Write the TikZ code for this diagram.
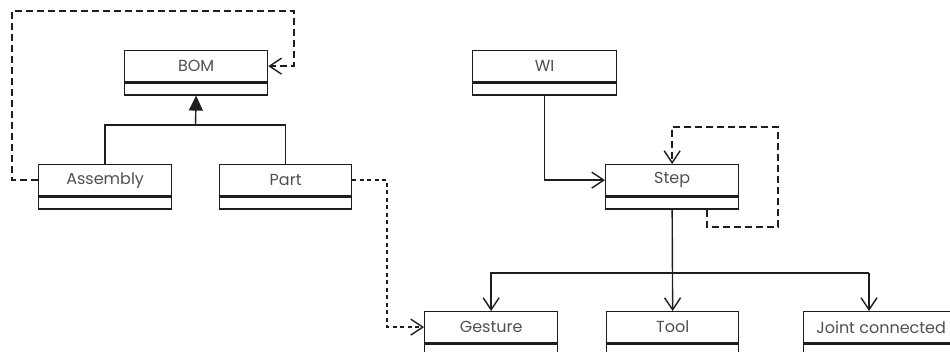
\documentclass[tikz,border=0pt]{standalone}
\usepackage{fontspec}
\setmainfont{Poppins}
\usetikzlibrary{arrows.meta}
\definecolor{txtgray}{HTML}{505050}
\definecolor{linec}{HTML}{1E1E1E}
\tikzset{
  cls/.style={draw=linec, line width=1.3pt, minimum height=31pt, inner sep=0pt,
    anchor=north west, font=\fontsize{16}{18}\selectfont, text=txtgray},
  clsb/.style={draw=linec, line width=1.3pt, minimum height=12pt, inner sep=0pt,
    anchor=north},
  conn/.style={draw=linec, line width=1.4pt},
  dashA/.style={conn, dash pattern=on 7pt off 4pt},
  dashB/.style={conn, dash pattern=on 4pt off 3.5pt},
  openhead/.style={-{Straight Barb[length=12pt,width=16pt,line width=1.4pt]}},
  inherit/.style={-{Triangle[length=15pt,width=14pt]}}
}
\begin{document}
\begin{tikzpicture}[x=1pt,y=-1pt]
\useasboundingbox (0,0) rectangle (950,352);
% class boxes
\node[cls, minimum width=143pt] (bom) at (124,50) {BOM};
\node[clsb, minimum width=143pt] (bomb) at (bom.south) {};
\node[cls, minimum width=144pt] (wi) at (472,50) {WI};
\node[clsb, minimum width=144pt] (wib) at (wi.south) {};
\node[cls, minimum width=133pt] (asm) at (38,164) {Assembly};
\node[clsb, minimum width=133pt] (asmb) at (asm.south) {};
\node[cls, minimum width=132pt] (part) at (219,164) {Part};
\node[clsb, minimum width=132pt] (partb) at (part.south) {};
\node[cls, minimum width=133pt] (step) at (605,164) {Step};
\node[clsb, minimum width=133pt] (stepb) at (step.south) {};
\node[cls, minimum width=133pt] (ges) at (424,311) {Gesture};
\node[clsb, minimum width=133pt] (gesb) at (ges.south) {};
\node[cls, minimum width=132pt] (tool) at (606,311) {Tool};
\node[clsb, minimum width=132pt] (toolb) at (tool.south) {};
\node[cls, minimum width=155pt] (joint) at (803,311) {Joint connected};
\node[clsb, minimum width=155pt] (jointb) at (joint.south) {};
% thicker dividers
\foreach \n in {bom,wi,asm,part,step,ges,tool,joint}
  \draw[linec, line width=2.2pt] (\n.south west) -- (\n.south east);
% inheritance
\coordinate (j1) at (195.5,125);
\draw[conn] (asm.north) |- (j1) -| (part.north);
\draw[conn, inherit] (j1) -- (bomb.south);
% Assembly -> BOM dashed
\coordinate (c1) at (12,11);
\coordinate (c2) at (294,11);
\draw[dashA, openhead] (asm.west) -| (c1) -- (c2) |- (bom.east);
% Part -> Gesture dashed
\coordinate (c3) at (387,250);
\draw[dashB, openhead] (part.east) -| (c3) |- (ges.west);
% WI -> Step
\draw[conn, openhead] (wib.south) |- (step.west);
% Step self loop
\coordinate (s1) at (707,227);
\coordinate (s2) at (778,127);
\draw[dashA, openhead] (stepb.south -| s1) -- (s1) -| (s2) -| (step.north);
% Step -> children
\coordinate (h) at (671.5,273);
\coordinate (jx) at (869,311);
\draw[conn, openhead] (stepb.south) -- (tool.north);
\draw[conn, openhead] (h) -| (ges.north);
\draw[conn] (h) -| (jx |- h);
\draw[conn, openhead] (jx |- h) -- (jx);
\end{tikzpicture}
\end{document}
